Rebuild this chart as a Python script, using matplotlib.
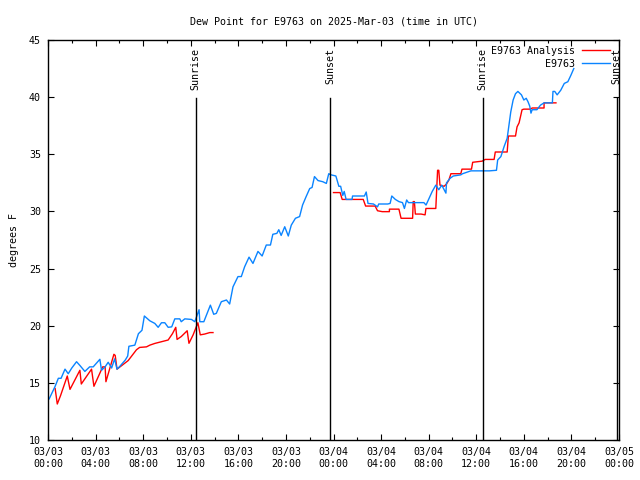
import matplotlib
matplotlib.use("Agg")
import matplotlib.pyplot as plt
from matplotlib.ticker import MultipleLocator

# hours since 2025-03-03 00:00 UTC
obs_hours = [0.1, 0.6, 0.87, 1.1, 1.43, 1.7, 2.0, 2.4, 2.7, 3.1, 3.5, 3.8, 4.36, 4.5, 4.8, 5.06, 5.35, 5.6, 5.8, 6.0,
             6.5, 6.7, 6.8, 7.3, 7.6, 7.9, 8.1, 8.56, 8.98, 9.26, 9.54, 9.82, 10.1, 10.4, 10.66, 11.08, 11.2, 11.5,
             12.06, 12.34, 12.7, 12.76, 13.1, 13.65, 13.93, 14.15, 14.57, 15.0, 15.27, 15.55, 15.97, 16.25, 16.53,
             16.9, 17.23, 17.65, 18.0, 18.35, 18.7, 18.9, 19.24, 19.4, 19.6, 19.9, 20.2, 20.45, 20.8, 21.15, 21.4,
             21.7, 22.0, 22.2, 22.4, 22.7, 23.1, 23.4, 23.6, 23.8, 24.2, 24.45, 24.6, 24.78, 24.9, 25.06, 25.56, 25.6,
             26.6, 26.75, 26.9, 27.36, 27.7, 27.8, 28.56, 28.76, 28.9, 29.2, 29.5, 29.8, 29.96, 30.15, 30.3, 31.6,
             31.78, 32.06, 32.3, 32.6, 32.85, 33.1, 33.2, 33.45, 33.5, 33.8, 34.07, 34.7, 34.85, 35.55, 37.1, 37.7,
             37.8, 38.07, 38.35, 38.6, 38.77, 38.9, 39.1, 39.3, 39.5, 39.8, 40.0, 40.2, 40.35, 40.5, 40.6, 40.7,
             41.1, 41.4, 41.7, 42.4, 42.45, 42.6, 42.8, 43.1, 43.4, 43.7, 43.95, 44.2]
obs_values = [13.6, 14.7, 15.4, 15.4, 16.2, 15.8, 16.3, 16.85, 16.5, 16.0, 16.4, 16.4, 17.06, 16.1, 16.4, 16.8, 16.3,
              17.1, 16.2, 16.4, 17.0, 17.35, 18.2, 18.3, 19.3, 19.6, 20.85, 20.43, 20.2, 19.86, 20.26, 20.26, 19.86,
              19.9, 20.6, 20.6, 20.35, 20.6, 20.55, 20.35, 21.4, 20.35, 20.35, 21.8, 21.0, 21.08, 22.1, 22.25, 21.9,
              23.4, 24.3, 24.3, 25.16, 26.0, 25.45, 26.5, 26.1, 27.06, 27.06, 28.0, 28.08, 28.4, 27.9, 28.66, 27.85,
              28.8, 29.4, 29.55, 30.56, 31.3, 32.0, 32.1, 33.05, 32.7, 32.6, 32.45, 33.3, 33.2, 33.1, 32.2, 32.2, 31.4,
              31.75, 31.05, 31.05, 31.35, 31.35, 31.7, 30.7, 30.65, 30.4, 30.65, 30.65, 30.7, 31.35, 31.05, 30.86,
              30.77, 30.26, 31.0, 30.77, 30.77, 30.56, 31.2, 31.75, 32.3, 31.9, 32.3, 32.1, 31.6, 32.5, 32.9, 33.1,
              33.2, 33.3, 33.55, 33.55, 33.6, 34.5, 34.8, 35.7, 36.4, 37.7, 38.7, 39.75, 40.3, 40.5, 40.2, 39.75, 39.9,
              39.6, 39.2, 38.6, 38.9, 38.9, 39.3, 39.5, 39.5, 40.5, 40.5, 40.2, 40.6, 41.2, 41.35, 41.9, 42.5]

ana1_hours = [0.6, 0.78, 1.06, 1.62, 1.85, 2.68, 2.8, 3.66, 3.86, 4.6, 4.8, 4.87, 5.54, 5.65, 5.8, 6.18, 6.74, 7.44,
              7.7, 8.28, 8.56, 8.98, 9.54, 10.1, 10.46, 10.74, 10.85, 11.2, 11.7, 11.85, 12.2, 12.6, 12.8, 13.17,
              13.6, 13.87]
ana1_values = [14.5, 13.15, 13.9, 15.6, 14.43, 16.1, 14.9, 16.2, 14.7, 16.4, 16.4, 15.1, 17.5, 17.4, 16.2, 16.5, 16.95,
               17.9, 18.1, 18.15, 18.3, 18.45, 18.6, 18.75, 19.3, 19.86, 18.8, 19.05, 19.56, 18.46, 19.2, 20.26, 19.2,
               19.27, 19.4, 19.4]

ana2_hours = [24.0, 24.56, 24.73, 26.5, 26.7, 27.5, 27.7, 28.1, 28.7, 28.7, 29.5, 29.68, 30.65, 30.7, 30.8, 30.88,
              31.36, 31.7, 31.77, 32.6, 32.75, 32.85, 32.95, 33.3, 33.5, 33.7, 33.87, 34.7, 34.8, 35.6, 35.7, 36.5,
              36.75, 37.5, 37.6, 38.6, 38.7, 39.3, 39.43, 39.6, 39.85, 40.0, 40.56, 40.7, 41.7, 41.7, 42.7]
ana2_values = [31.65, 31.65, 31.05, 31.05, 30.47, 30.47, 30.06, 29.98, 29.98, 30.2, 30.2, 29.4, 29.4, 30.86, 30.86,
               29.77, 29.77, 29.7, 30.26, 30.26, 33.6, 33.6, 32.3, 32.2, 32.4, 32.75, 33.3, 33.3, 33.7, 33.7, 34.3,
               34.4, 34.55, 34.55, 35.2, 35.2, 36.6, 36.6, 37.4, 37.75, 38.9, 38.95, 38.95, 39.05, 39.05, 39.5, 39.5]

events = ["Sunrise", "Sunset", "Sunrise", "Sunset"]
event_hours = [12.43, 23.7, 36.55, 47.8]

xtick_labels = ["03/03\n00:00", "03/03\n04:00", "03/03\n08:00", "03/03\n12:00", "03/03\n16:00", "03/03\n20:00",
                "03/04\n00:00", "03/04\n04:00", "03/04\n08:00", "03/04\n12:00", "03/04\n16:00", "03/04\n20:00",
                "03/05\n00:00"]

FONT = "DejaVu Sans Mono"
FS = 7.2
plt.rcParams["font.family"] = FONT
plt.rcParams["font.size"] = FS

fig = plt.figure(figsize=(6.4, 4.8), dpi=100)
ax = fig.add_axes([48 / 640, 1 - 440 / 480, 571 / 640, 400 / 480])

ax.plot(ana1_hours, ana1_values, color="#ff0000", lw=1.0, label="E9763 Analysis")
ax.plot(ana2_hours, ana2_values, color="#ff0000", lw=1.0)
ax.plot(obs_hours, obs_values, color="#0a84ff", lw=1.0, label="E9763")

ax.set_xlim(0, 48)
ax.set_ylim(10, 45)

for name, h in zip(events, event_hours):
    ax.axvline(h, ymin=0, ymax=0.855, color="black", lw=1.0)
    ax.text(h, 44.3, name, rotation=90, ha="center", va="top", fontsize=FS)

ax.set_xticks(range(0, 49, 4))
ax.set_xticklabels(xtick_labels)
ax.xaxis.set_minor_locator(MultipleLocator(2))
ax.set_yticks(range(10, 46, 5))
ax.tick_params(which="both", direction="in", top=True, right=True, width=0.8)
ax.tick_params(which="major", length=4, pad=5)
ax.tick_params(which="minor", length=2)
for s in ax.spines.values():
    s.set_linewidth(1.0)

ax.set_ylabel("degrees F", labelpad=7)
ax.set_title("Dew Point for E9763 on 2025-Mar-03 (time in UTC)", fontsize=FS, pad=11)

leg = ax.legend(loc="upper right", frameon=False, markerfirst=False, handlelength=2.8,
                borderaxespad=0.2, labelspacing=0.3, handletextpad=0.7, bbox_to_anchor=(0.994, 1.0))
for t in leg.get_texts():
    t.set_ha("right")

fig.savefig("out.png", dpi=100)
